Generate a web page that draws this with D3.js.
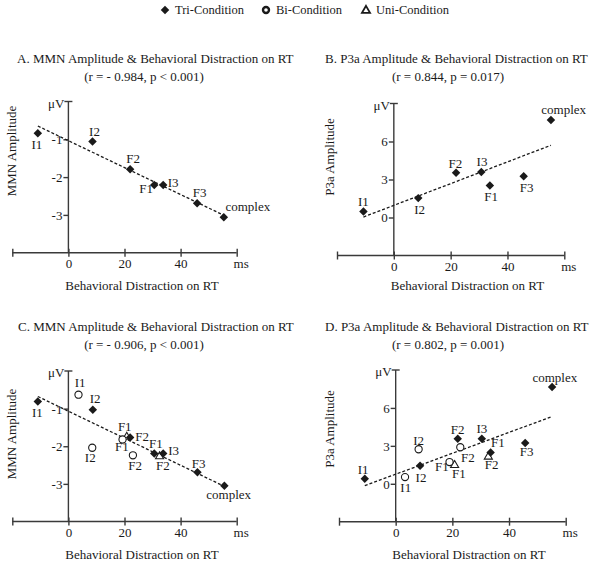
<!DOCTYPE html>
<html><head><meta charset="utf-8">
<script src="https://cdn.jsdelivr.net/npm/d3@7"></script>
<style>
body{margin:0;background:#fff;}
svg{display:block;font-family:"Liberation Serif","Times New Roman",serif;}
</style></head>
<body>
<svg id="chart" width="602" height="565"></svg>
<script>
// ---------- data ----------
const legendLabels = ["Tri-Condition", "Bi-Condition", "Uni-Condition"];
const xTickValues = [-20, 0, 20, 40, 60];
const xTickLabels = ["", "0", "20", "40", "ms"];
const mmnTicks = [-1, -2, -3];
const p3aTicks = [0, 3, 6];

const titleA = "A. MMN Amplitude & Behavioral Distraction on RT";
const statA = "(r = - 0.984, p < 0.001)";
const titleB = "B. P3a Amplitude & Behavioral Distraction on RT";
const statB = "(r = 0.844, p = 0.017)";
const titleC = "C. MMN Amplitude & Behavioral Distraction on RT";
const statC = "(r = - 0.906, p < 0.001)";
const titleD = "D. P3a Amplitude & Behavioral Distraction on RT";
const statD = "(r = 0.802, p = 0.001)";

// Panel A (tri-condition)
const aNames = ["I1", "I2", "F2", "F1", "I3", "F3", "complex"];
const aRT    = [-10.9, 8.6, 22.0, 30.6, 33.8, 45.9, 55.4];
const aMMN   = [-0.84, -1.06, -1.79, -2.21, -2.21, -2.69, -3.06];

// Panel B (tri-condition)
const bNames = ["I1", "I2", "F2", "I3", "F1", "F3", "complex"];
const bRT    = [-10.7, 8.6, 21.9, 30.8, 33.8, 45.7, 55.3];
const bP3a   = [0.47, 1.53, 3.54, 3.60, 2.52, 3.26, 7.69];

// Panel C
const cTriNames = ["I1", "I2", "F2", "F1", "I3", "F3", "complex"];
const cTriRT    = [-10.9, 8.7, 22.0, 30.6, 33.8, 46.0, 55.6];
const cTriMMN   = [-0.81, -1.03, -1.77, -2.19, -2.19, -2.69, -3.05];
const cBiNames  = ["I1", "I2", "F1", "F2"];
const cBiRT     = [3.6, 8.5, 19.3, 23.0];
const cBiMMN    = [-0.63, -2.04, -1.82, -2.24];
const cUniNames = ["F1", "F2"];
const cUniRT    = [20.8, 32.5];
const cUniMMN   = [-1.73, -2.25];

// Panel D
const dTriNames = ["I1", "I2", "F2", "I3", "F1", "F3", "complex"];
const dTriRT    = [-10.9, 8.6, 21.9, 30.4, 33.5, 45.7, 55.2];
const dTriP3a   = [0.40, 1.42, 3.56, 3.56, 2.48, 3.22, 7.65];
const dBiNames  = ["I1", "I2", "F1", "F2"];
const dBiRT     = [3.3, 8.1, 19.0, 22.8];
const dBiP3a    = [0.53, 2.73, 1.72, 2.89];
const dUniNames = ["F1", "F2"];
const dUniRT    = [20.8, 32.7];
const dUniP3a   = [1.53, 2.20];

// ---------- layout (label offsets in px, separate from data) ----------
const labelOffsets = {
  A:  [[-1,16],[2,-6],[3,-6],[-8,7.5],[10,2],[2.5,-5.7],[24,-6.3]],
  B:  [[0,-5.7],[1.3,16],[-0.7,-5],[0.7,-6],[1.3,15.3],[3,15.7],[12.7,-6.4]],
  Ct: [[-0.4,16],[2.3,-6.4],[12,3.3],[1.7,-5],[10.5,2],[1.3,-4.4],[4.3,13.6]],
  Cb: [[1.7,-8],[-2,14],[-0.6,11.7],[2.3,14.3]],
  Cu: [[-2,-5],[3.3,14]],
  Dt: [[-1.7,-4.7],[1,16],[0,-4.7],[0,-5.4],[7.3,-5],[1.4,13.3],[2.7,-4.7]],
  Db: [[0.7,15.3],[0,-4.3],[-7.6,8.7],[7.6,14.3]],
  Du: [[4.3,14],[3.4,12.6]]
};

const svg = d3.select("#chart");
const ink = "#1a1a1a";
const axisCol = "#3a3a3a";
const FS = 13;

// legend
const legend = svg.append("g");
const legX = [165, 266, 366];
const diamond = d3.symbol().type(d3.symbolSquare).size(36);
const tri = d3.symbol().type(d3.symbolTriangle).size(28);
legend.append("path").attr("d", diamond()).attr("transform", `translate(${legX[0]},10) rotate(45)`).attr("fill", ink);
legend.append("circle").attr("cx", legX[1]).attr("cy", 10).attr("r", 3).attr("fill", "#fff").attr("stroke", ink).attr("stroke-width", 2.4);
legend.append("path").attr("d", tri()).attr("transform", `translate(${legX[2]},10.5)`).attr("fill", "#fff").attr("stroke", ink).attr("stroke-width", 1.8);
legendLabels.forEach((t, i) => {
  legend.append("text").attr("x", legX[i] + 10).attr("y", 14).attr("font-size", 12.5).attr("fill", ink).text(t);
});

function panel(cfg) {
  const g = svg.append("g");
  const x = d3.scaleLinear().domain([-20, 60]).range(cfg.xr);
  const y = d3.scaleLinear().domain(cfg.yd).range(cfg.yr);
  const x0 = x(0), yb = y(cfg.yd[0]), yt = y(cfg.yd[1]);

  // titles
  g.append("text").attr("x", cfg.titleX).attr("y", cfg.titleY).attr("font-size", FS).attr("fill", ink).text(cfg.title);
  g.append("text").attr("x", cfg.statX).attr("y", cfg.titleY + 18).attr("text-anchor", "middle").attr("font-size", FS).attr("fill", ink).text(cfg.stat);

  // x axis
  const xa = g.append("g").attr("transform", `translate(0,${yb})`)
    .call(d3.axisBottom(x).tickValues(xTickValues).tickSize(4).tickFormat((d, i) => xTickLabels[i]));
  xa.select(".domain").attr("d", `M${x(-20)},0H${x(60)}`).attr("stroke", axisCol).attr("stroke-width", 1.4);
  xa.selectAll(".tick line").attr("y1", -4).attr("y2", 4).attr("stroke", axisCol).attr("stroke-width", 1.4);
  xa.selectAll(".tick text").attr("font-family", "Liberation Serif, serif").attr("font-size", FS).attr("fill", ink).attr("dy", "0").attr("y", 15)
    .attr("dx", d => d === 60 ? 4 : 0);

  // y axis
  const ya = g.append("g").attr("transform", `translate(${x0},0)`)
    .call(d3.axisLeft(y).tickValues(cfg.yTicks).tickSize(5).tickFormat(d => String(d)));
  ya.select(".domain").attr("d", `M0,${yt}V${yb}`).attr("stroke", axisCol).attr("stroke-width", 1.4);
  ya.selectAll(".tick line").attr("stroke", axisCol).attr("stroke-width", 1.4);
  ya.selectAll(".tick text").attr("font-family", "Liberation Serif, serif").attr("font-size", FS).attr("fill", ink).attr("x", -6).attr("dy", "0.34em");
  g.append("line").attr("x1", x0 - 4).attr("x2", x0 + 4).attr("y1", yt).attr("y2", yt).attr("stroke", axisCol).attr("stroke-width", 1.4);
  g.append("text").attr("x", x0 - 4).attr("y", yt + 6).attr("text-anchor", "end").attr("font-size", FS).attr("fill", ink).text("\u03bcV");

  // axis titles
  g.append("text").attr("x", cfg.xlabX).attr("y", cfg.xlabY).attr("text-anchor", "middle").attr("font-size", FS).attr("fill", ink).text("Behavioral Distraction on RT");
  g.append("text").attr("transform", `translate(${cfg.ylabX},${cfg.ylabY}) rotate(-90)`).attr("text-anchor", "middle").attr("font-size", FS).attr("fill", ink).text(cfg.ylab);

  // regression over all points
  const all = cfg.series.flatMap(s => s.rt.map((v, i) => [v, s.val[i]]));
  const mx = d3.mean(all, d => d[0]), my = d3.mean(all, d => d[1]);
  const sxy = d3.sum(all, d => (d[0] - mx) * (d[1] - my));
  const sxx = d3.sum(all, d => (d[0] - mx) ** 2);
  const slope = sxy / sxx, icpt = my - slope * mx;
  const [xmin, xmax] = d3.extent(all, d => d[0]);
  g.append("path").attr("d", d3.line().x(d => x(d)).y(d => y(slope * d + icpt))([xmin, xmax]))
    .attr("stroke", ink).attr("stroke-width", 1.3).attr("stroke-dasharray", "3,2").attr("fill", "none");

  // markers (draw uni, bi, then tri on top)
  cfg.series.slice().reverse().forEach(s => {
    s.rt.forEach((v, i) => {
      const px = x(v), py = y(s.val[i]);
      if (s.kind === "tri") {
        g.append("path").attr("d", diamond()).attr("transform", `translate(${px},${py}) rotate(45)`).attr("fill", ink);
      } else if (s.kind === "bi") {
        g.append("circle").attr("cx", px).attr("cy", py).attr("r", 3.6).attr("fill", "#fff").attr("stroke", ink).attr("stroke-width", 1.1);
      } else {
        g.append("path").attr("d", tri()).attr("transform", `translate(${px},${py + 0.8})`).attr("fill", "#fff").attr("stroke", ink).attr("stroke-width", 1.1);
      }
    });
  });
  // labels
  cfg.series.forEach(s => {
    s.rt.forEach((v, i) => {
      const off = s.off[i];
      g.append("text").attr("x", x(v) + off[0]).attr("y", y(s.val[i]) + off[1]).attr("text-anchor", "middle")
        .attr("font-size", FS).attr("fill", ink).text(s.names[i]);
    });
  });
}

panel({ xr: [12.3, 236.7], yd: [-4, 0], yr: [252.7, 101.5], yTicks: mmnTicks,
  title: titleA, stat: statA, titleX: 17, titleY: 63, statX: 144,
  xlabX: 142, xlabY: 290, ylab: "MMN Amplitude", ylabX: 16, ylabY: 151,
  series: [{ kind: "tri", names: aNames, rt: aRT, val: aMMN, off: labelOffsets.A }] });

panel({ xr: [337, 564.3], yd: [-3, 9], yr: [255.5, 103.5], yTicks: p3aTicks,
  title: titleB, stat: statB, titleX: 325, titleY: 63, statX: 448,
  xlabX: 467.5, xlabY: 290, ylab: "P3a Amplitude", ylabX: 334, ylabY: 157,
  series: [{ kind: "tri", names: bNames, rt: bRT, val: bP3a, off: labelOffsets.B }] });

panel({ xr: [12.3, 236.7], yd: [-4, 0], yr: [521.5, 371], yTicks: mmnTicks,
  title: titleC, stat: statC, titleX: 18, titleY: 331, statX: 144,
  xlabX: 142, xlabY: 559, ylab: "MMN Amplitude", ylabX: 16, ylabY: 434,
  series: [
    { kind: "tri", names: cTriNames, rt: cTriRT, val: cTriMMN, off: labelOffsets.Ct },
    { kind: "bi", names: cBiNames, rt: cBiRT, val: cBiMMN, off: labelOffsets.Cb },
    { kind: "uni", names: cUniNames, rt: cUniRT, val: cUniMMN, off: labelOffsets.Cu }] });

panel({ xr: [339, 565.7], yd: [-3, 9], yr: [521.7, 370], yTicks: p3aTicks,
  title: titleD, stat: statD, titleX: 325, titleY: 331, statX: 448,
  xlabX: 469, xlabY: 559, ylab: "P3a Amplitude", ylabX: 334, ylabY: 429,
  series: [
    { kind: "tri", names: dTriNames, rt: dTriRT, val: dTriP3a, off: labelOffsets.Dt },
    { kind: "bi", names: dBiNames, rt: dBiRT, val: dBiP3a, off: labelOffsets.Db },
    { kind: "uni", names: dUniNames, rt: dUniRT, val: dUniP3a, off: labelOffsets.Du }] });
</script>
</body></html>
